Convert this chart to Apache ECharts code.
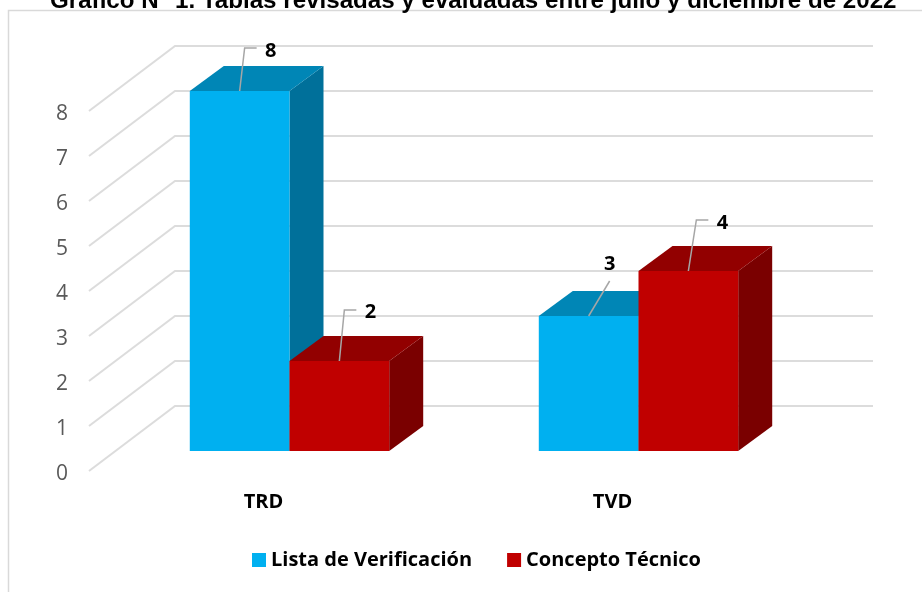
<!DOCTYPE html>
<html>
<head>
<meta charset="utf-8">
<style>
  html, body { margin: 0; padding: 0; background: #fff; }
  #chart { width: 922px; height: 592px; }
</style>
<script src="https://cdn.jsdelivr.net/npm/echarts@6/dist/echarts.min.js"></script>
</head>
<body>
<div id="chart"></div>
<script>
// data
const categories = ['TRD', 'TVD'];
const listaValues = [8, 3];
const conceptoValues = [2, 4];
const yTicks = [0, 1, 2, 3, 4, 5, 6, 7, 8];

const FONT = '"Open Sans", "Noto Sans", sans-serif';

// oblique projection: how far each plane sits from the front plane of the axis
const BAR_FRONT = [26, -20];
const BAR_DEPTH = [34, -25];
const BACK_WALL = [86, -65];

// leader path + label position, relative to the top of the bar front
const listaLeaders = [
  { path: [[5, -43], [17, -43]], label: [31, -40] },
  { path: [[21, -35]], label: [21, -52] }
];
const conceptoLeaders = [
  { path: [[5, -51], [17, -51]], label: [31, -49] },
  { path: [[8, -51], [20, -51]], label: [34, -48] }
];

function renderWall(params, api) {
  const y = api.coord([0, api.value(0)])[1];
  const left = params.coordSys.x;
  const right = left + params.coordSys.width;
  return {
    type: 'polyline',
    shape: {
      points: [
        [left, y],
        [left + BACK_WALL[0], y + BACK_WALL[1]],
        [right + BACK_WALL[0], y + BACK_WALL[1]]
      ]
    },
    style: { fill: 'none', stroke: '#dcdcdc', lineWidth: 2 }
  };
}

// side = -1 puts the bar left of the category centre, 0 right of it
function barRenderer(side, colors, leaders) {
  return function (params, api) {
    const cat = api.value(0);
    const top = api.coord([cat, api.value(1)]);
    const base = api.coord([cat, 0]);
    const barW = api.size([1, 0])[0] / 3.5;
    const x0 = top[0] + BAR_FRONT[0] + side * barW;
    const x1 = x0 + barW;
    const y0 = top[1] + BAR_FRONT[1];
    const y1 = base[1] + BAR_FRONT[1];
    const dx = BAR_DEPTH[0], dy = BAR_DEPTH[1];
    const ax = (x0 + x1) / 2;
    const lead = leaders[params.dataIndex];
    const points = [[ax, y0]].concat(lead.path.map(p => [ax + p[0], y0 + p[1]]));
    return {
      type: 'group',
      children: [
        {
          type: 'polygon',
          shape: { points: [[x1, y0], [x1 + dx, y0 + dy], [x1 + dx, y1 + dy], [x1, y1]] },
          style: { fill: colors.side }
        },
        {
          type: 'polygon',
          shape: { points: [[x0, y0], [x0 + dx, y0 + dy], [x1 + dx, y0 + dy], [x1, y0]] },
          style: { fill: colors.top }
        },
        {
          type: 'rect',
          shape: { x: x0, y: y0, width: x1 - x0, height: y1 - y0 },
          style: { fill: colors.front }
        },
        {
          type: 'polyline',
          shape: { points: points },
          style: { fill: 'none', stroke: '#a6a6a6', lineWidth: 1.5 }
        },
        {
          type: 'text',
          x: ax + lead.label[0],
          y: y0 + lead.label[1],
          style: {
            text: String(api.value(1)),
            align: 'center',
            verticalAlign: 'middle',
            font: 'bold 20px ' + FONT,
            fill: '#000'
          }
        }
      ]
    };
  };
}

const chart = echarts.init(document.getElementById('chart'), null, { renderer: 'canvas' });

chart.setOption({
  animation: false,
  backgroundColor: '#fff',
  title: {
    text: 'Gráfico N° 1. Tablas revisadas y evaluadas entre julio y diciembre de 2022',
    left: 45,
    top: -16,
    textStyle: { fontFamily: '"Liberation Sans"', fontWeight: 'bold', fontSize: 24.15, color: '#000' }
  },
  legend: {
    data: ['Lista de Verificación', 'Concepto Técnico'],
    left: 247,
    top: 545,
    icon: 'rect',
    itemWidth: 14,
    itemHeight: 14,
    itemGap: 35,
    textStyle: { fontFamily: FONT, fontWeight: 'bold', fontSize: 20, color: '#000' }
  },
  grid: { left: 89, top: 111, width: 698, height: 360 },
  xAxis: {
    type: 'category',
    data: categories,
    axisLine: { show: false },
    axisTick: { show: false },
    axisLabel: { margin: 21, fontFamily: FONT, fontWeight: 'bold', fontSize: 20, color: '#000' }
  },
  yAxis: {
    type: 'value',
    min: 0,
    max: 8,
    interval: 1,
    axisLine: { show: false },
    axisTick: { show: false },
    splitLine: { show: false },
    axisLabel: {
      margin: 21,
      formatter: '{n|{value}}',
      rich: { n: { padding: [6, 0, 0, 0], fontFamily: FONT, fontSize: 21, color: '#595959' } }
    }
  },
  series: [
    {
      name: 'walls',
      type: 'custom',
      coordinateSystem: 'cartesian2d',
      renderItem: renderWall,
      encode: { y: 0 },
      data: yTicks.map(v => [v])
    },
    {
      name: 'Lista de Verificación',
      type: 'custom',
      coordinateSystem: 'cartesian2d',
      renderItem: barRenderer(-1, { front: '#00b0f0', top: '#0086b6', side: '#00709a' }, listaLeaders),
      itemStyle: { color: '#00b0f0' },
      encode: { x: 0, y: 1 },
      data: listaValues.map((v, i) => [i, v])
    },
    {
      name: 'Concepto Técnico',
      type: 'custom',
      coordinateSystem: 'cartesian2d',
      renderItem: barRenderer(0, { front: '#c00000', top: '#920000', side: '#7a0000' }, conceptoLeaders),
      itemStyle: { color: '#c00000' },
      encode: { x: 0, y: 1 },
      data: conceptoValues.map((v, i) => [i, v])
    }
  ],
  graphic: [
    {
      type: 'polyline',
      silent: true,
      shape: { points: [[8.5, 592], [8.5, 10.5], [922, 10.5]] },
      style: { fill: 'none', stroke: '#d9d9d9', lineWidth: 1.5 }
    }
  ]
});

window.addEventListener('resize', () => chart.resize());
</script>
</body>
</html>
